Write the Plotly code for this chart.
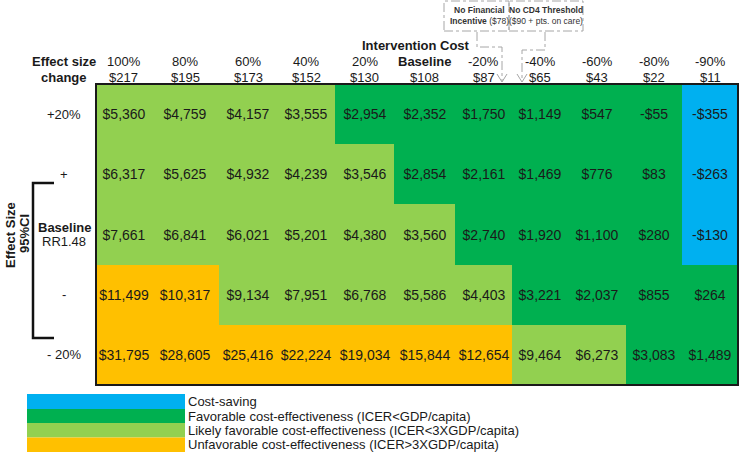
import plotly.graph_objects as go

# ---------------- data ----------------
cost_change = ["100%", "80%", "60%", "40%", "20%", "Baseline", "-20%", "-40%", "-60%", "-80%", "-90%"]
cost_usd = ["$217", "$195", "$173", "$152", "$130", "$108", "$87", "$65", "$43", "$22", "$11"]
effect_rows = ["+20%", "+", "Baseline", "-", "- 20%"]
effect_sub = ["", "", "RR1.48", "", ""]

icer_row_p20 = [5360, 4759, 4157, 3555, 2954, 2352, 1750, 1149, 547, -55, -355]
icer_row_hi = [6317, 5625, 4932, 4239, 3546, 2854, 2161, 1469, 776, 83, -263]
icer_row_base = [7661, 6841, 6021, 5201, 4380, 3560, 2740, 1920, 1100, 280, -130]
icer_row_lo = [11499, 10317, 9134, 7951, 6768, 5586, 4403, 3221, 2037, 855, 264]
icer_row_m20 = [31795, 28605, 25416, 22224, 19034, 15844, 12654, 9464, 6273, 3083, 1489]

# 0 = cost-saving, 1 = favorable, 2 = likely favorable, 3 = unfavorable
cat_row_p20 = [2, 2, 2, 2, 1, 1, 1, 1, 1, 1, 0]
cat_row_hi = [2, 2, 2, 2, 2, 1, 1, 1, 1, 1, 0]
cat_row_base = [2, 2, 2, 2, 2, 2, 1, 1, 1, 1, 0]
cat_row_lo = [3, 3, 2, 2, 2, 2, 2, 1, 1, 1, 1]
cat_row_m20 = [3, 3, 3, 3, 3, 3, 3, 2, 2, 1, 1]

legend_labels = [
    "Cost-saving",
    "Favorable cost-effectiveness (ICER<GDP/capita)",
    "Likely favorable cost-effectiveness (ICER<3XGDP/capita)",
    "Unfavorable cost-effectiveness (ICER>3XGDP/capita)",
]

# ---------------- style ----------------
W, H = 740, 456
FONT = "Arial, 'Liberation Sans', sans-serif"
COLORS = ["#00B0F0", "#00B050", "#92D050", "#FFC000"]
COL_WIDTHS = [55, 68, 58, 58, 59, 61, 57, 56, 58, 56, 56]
TXT = "#1a1a1a"


def px(x):
    return x / W


def py(y):
    return 1 - y / H


icer = [icer_row_p20, icer_row_hi, icer_row_base, icer_row_lo, icer_row_m20]
cats = [cat_row_p20, cat_row_hi, cat_row_base, cat_row_lo, cat_row_m20]


def fmt(v):
    return ("-$" if v < 0 else "$") + f"{abs(v):,}"


text = [[fmt(v) for v in row] for row in icer]

edges = [0]
for w in COL_WIDTHS:
    edges.append(edges[-1] + w)
centers = [(edges[i] + edges[i + 1]) / 2 for i in range(len(COL_WIDTHS))]

n = len(COLORS)
cscale = []
for i, c in enumerate(COLORS):
    cscale.append([i / n, c])
    cscale.append([(i + 1) / n, c])

fig = go.Figure()
fig.add_trace(go.Heatmap(
    z=cats, x=edges, y=list(range(len(effect_rows))),
    text=text, texttemplate="%{text}",
    textfont=dict(family=FONT, size=14, color=TXT),
    colorscale=cscale, zmin=-0.5, zmax=n - 0.5, showscale=False,
    hoverinfo="skip", xgap=0, ygap=0,
))

ann = []
shapes = []


def note(x, y, text, size=13, xref="paper", yref="paper", xanchor="center", angle=0, color=TXT):
    ann.append(dict(x=x, y=y, xref=xref, yref=yref, text=text, showarrow=False,
                    xanchor=xanchor, yanchor="middle", textangle=angle,
                    font=dict(family=FONT, size=size, color=color)))


# column headers
for i, (pct, usd) in enumerate(zip(cost_change, cost_usd)):
    lab = f"<b>{pct}</b>" if pct == "Baseline" else pct
    note(centers[i], py(62), lab, xref="x")
    note(centers[i], py(77), usd, xref="x")

note(px(64), py(62), "<b>Effect size</b>")
note(px(64), py(77), "<b>change</b>")
note(px(416), py(45), "<b>Intervention Cost</b>")

# row labels
for i, (lab, sub) in enumerate(zip(effect_rows, effect_sub)):
    if sub:
        note(px(64), i - 0.12, f"<b>{lab}</b>", yref="y")
        note(px(64), i + 0.12, sub, yref="y")
    else:
        note(px(64), i, lab, yref="y")

# rotated axis title
note(px(10), py(235), "<b>Effect Size</b>", angle=-90)
note(px(24), py(234), "<b>95%CI</b>", angle=-90)

# bracket
shapes.append(dict(type="path", xref="paper", yref="paper",
                   path=f"M {px(54)},{py(183)} L {px(33)},{py(183)} L {px(33)},{py(338)} L {px(54)},{py(338)}",
                   line=dict(color="#111", width=2.5)))

# table border
shapes.append(dict(type="rect", xref="paper", yref="paper",
                   x0=px(96), x1=px(738), y0=py(385), y1=py(84),
                   line=dict(color="#1a1a1a", width=2)))

# callout boxes
GRAY = "#a6a6a6"
for x0, x1 in [(444, 509), (509, 583)]:
    shapes.append(dict(type="rect", xref="paper", yref="paper",
                       x0=px(x0), x1=px(x1), y0=py(31), y1=py(1),
                       line=dict(color=GRAY, width=1, dash="dashdot")))
note(px(479), py(10), "<b>No Financial</b>", size=8.5, color="#333")
note(px(479), py(21), "<b>Incentive</b> ($78)", size=8.5, color="#333")
note(px(546), py(10), "<b>No CD4 Threshold</b>", size=8.5, color="#333")
note(px(546), py(21), "($90 + pts. on care)", size=8.5, color="#333")

# connectors
for pts, tip in [([(477, 32), (477, 47), (502, 47), (502, 81)], 502),
                 ([(545, 32), (545, 50), (522, 50), (522, 81)], 522)]:
    path = "M " + " L ".join(f"{px(a)},{py(b)}" for a, b in pts)
    shapes.append(dict(type="path", xref="paper", yref="paper", path=path,
                       line=dict(color=GRAY, width=1, dash="dashdot")))
    shapes.append(dict(type="path", xref="paper", yref="paper",
                       path=f"M {px(tip-5)},{py(74)} L {px(tip)},{py(82)} L {px(tip+5)},{py(74)}",
                       line=dict(color=GRAY, width=1)))

# legend
leg_rows = [(394, 409), (409, 423), (423, 437.5), (437.5, 452)]
for (y0, y1), c, lab in zip(leg_rows, COLORS, legend_labels):
    shapes.append(dict(type="rect", xref="paper", yref="paper",
                       x0=px(27), x1=px(185), y0=py(y1), y1=py(y0),
                       fillcolor=c, line=dict(width=0)))
    note(px(186), py((y0 + y1) / 2), lab, size=13, xanchor="left")

fig.update_layout(
    width=W, height=H, margin=dict(l=0, r=0, t=0, b=0),
    paper_bgcolor="white", plot_bgcolor="white",
    xaxis=dict(domain=[px(96), px(738)], range=[0, edges[-1]], visible=False, fixedrange=True),
    yaxis=dict(domain=[py(385), py(84)], range=[len(effect_rows) - 0.5, -0.5], visible=False, fixedrange=True),
    annotations=ann, shapes=shapes, showlegend=False,
)

fig.write_html("out.html", config={"displayModeBar": False},
               post_script="document.body.style.margin='0';document.body.style.overflow='hidden';")
